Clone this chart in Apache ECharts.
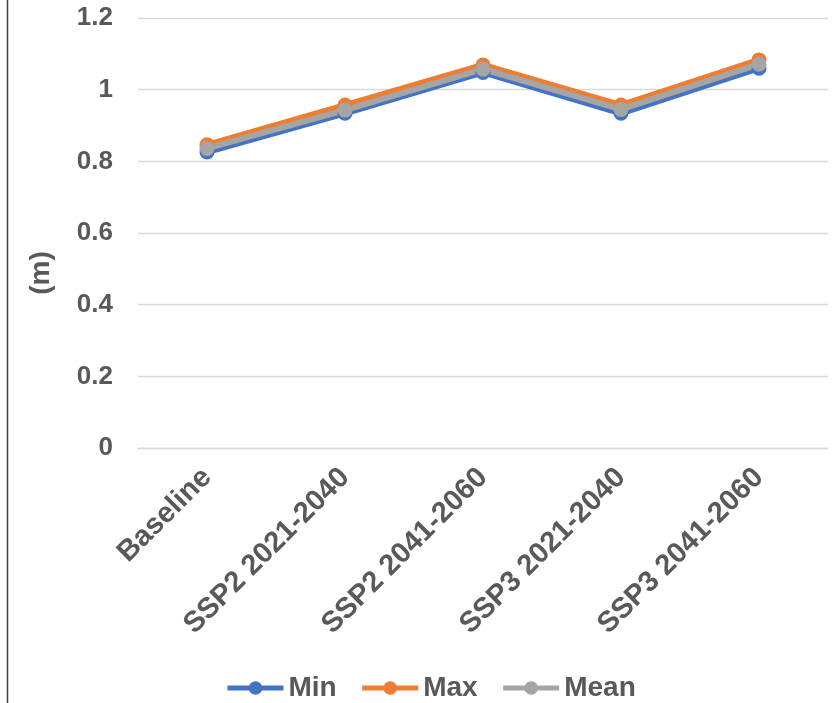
<!DOCTYPE html>
<html>
<head>
<meta charset="utf-8">
<script src="https://cdn.jsdelivr.net/npm/echarts@6/dist/echarts.min.js"></script>
<style>
  html, body { margin: 0; padding: 0; background: #fff; }
  #chart { width: 840px; height: 703px; }
</style>
</head>
<body>
<div id="chart"></div>
<script>
// Scenario periods along the x axis
const categories = ['Baseline', 'SSP2 2021-2040', 'SSP2 2041-2060', 'SSP3 2021-2040', 'SSP3 2041-2060'];

// Values in metres
const minValues  = [0.826, 0.934, 1.048, 0.934, 1.060];
const maxValues  = [0.846, 0.957, 1.069, 0.957, 1.083];
const meanValues = [0.836, 0.943, 1.057, 0.945, 1.071];

const yTicks = { min: 0, max: 1.2, interval: 0.2 };

const labelColor = '#595959';
const font = 'Liberation Sans, Arial, sans-serif';

function lineSeries(name, data, color) {
  return {
    name: name,
    type: 'line',
    data: data,
    symbol: 'circle',
    symbolSize: 15,
    lineStyle: { color: color, width: 6 },
    itemStyle: { color: color },
    emphasis: { disabled: true }
  };
}

const chart = echarts.init(document.getElementById('chart'), null, { renderer: 'canvas' });
chart.setOption({
  animation: false,
  backgroundColor: '#fff',
  grid: { left: 138, right: 12, top: 18, bottom: 255, containLabel: false },
  legend: {
    bottom: -4,
    left: 220,
    itemWidth: 56,
    itemHeight: 17,
    itemGap: 23,
    lineStyle: { width: 5 },
    textStyle: { color: labelColor, fontSize: 28, fontWeight: 'bold', fontFamily: font },
    data: ['Min', 'Max', 'Mean']
  },
  xAxis: {
    type: 'category',
    data: categories,
    boundaryGap: true,
    axisLine: { show: true, lineStyle: { color: '#d9d9d9', width: 1.3 } },
    axisTick: { show: false },
    axisLabel: {
      rotate: 45,
      margin: 25,
      interval: 0,
      color: labelColor,
      fontSize: 29,
      fontWeight: 'bold',
      fontFamily: font
    }
  },
  yAxis: {
    type: 'value',
    min: yTicks.min,
    max: yTicks.max,
    interval: yTicks.interval,
    axisLine: { show: false },
    axisTick: { show: false },
    splitLine: { lineStyle: { color: '#d9d9d9', width: 1.3 } },
    axisLabel: {
      margin: 25,
      color: labelColor,
      fontSize: 26,
      fontWeight: 'bold',
      fontFamily: font,
      formatter: v => String(Math.round(v * 10) / 10)
    }
  },
  graphic: [
    {
      type: 'text',
      x: 41,
      y: 273,
      rotation: Math.PI / 2,
      style: {
        text: '(m)',
        fill: labelColor,
        font: 'bold 28px ' + font,
        textAlign: 'center',
        textVerticalAlign: 'middle'
      }
    },
    {
      type: 'line',
      shape: { x1: 7.5, y1: 0, x2: 7.5, y2: 703 },
      style: { stroke: '#404040', lineWidth: 1.5 }
    }
  ],
  series: [
    lineSeries('Min', minValues, '#4472c4'),
    lineSeries('Max', maxValues, '#ed7d31'),
    lineSeries('Mean', meanValues, '#a5a5a5')
  ]
});
</script>
</body>
</html>
